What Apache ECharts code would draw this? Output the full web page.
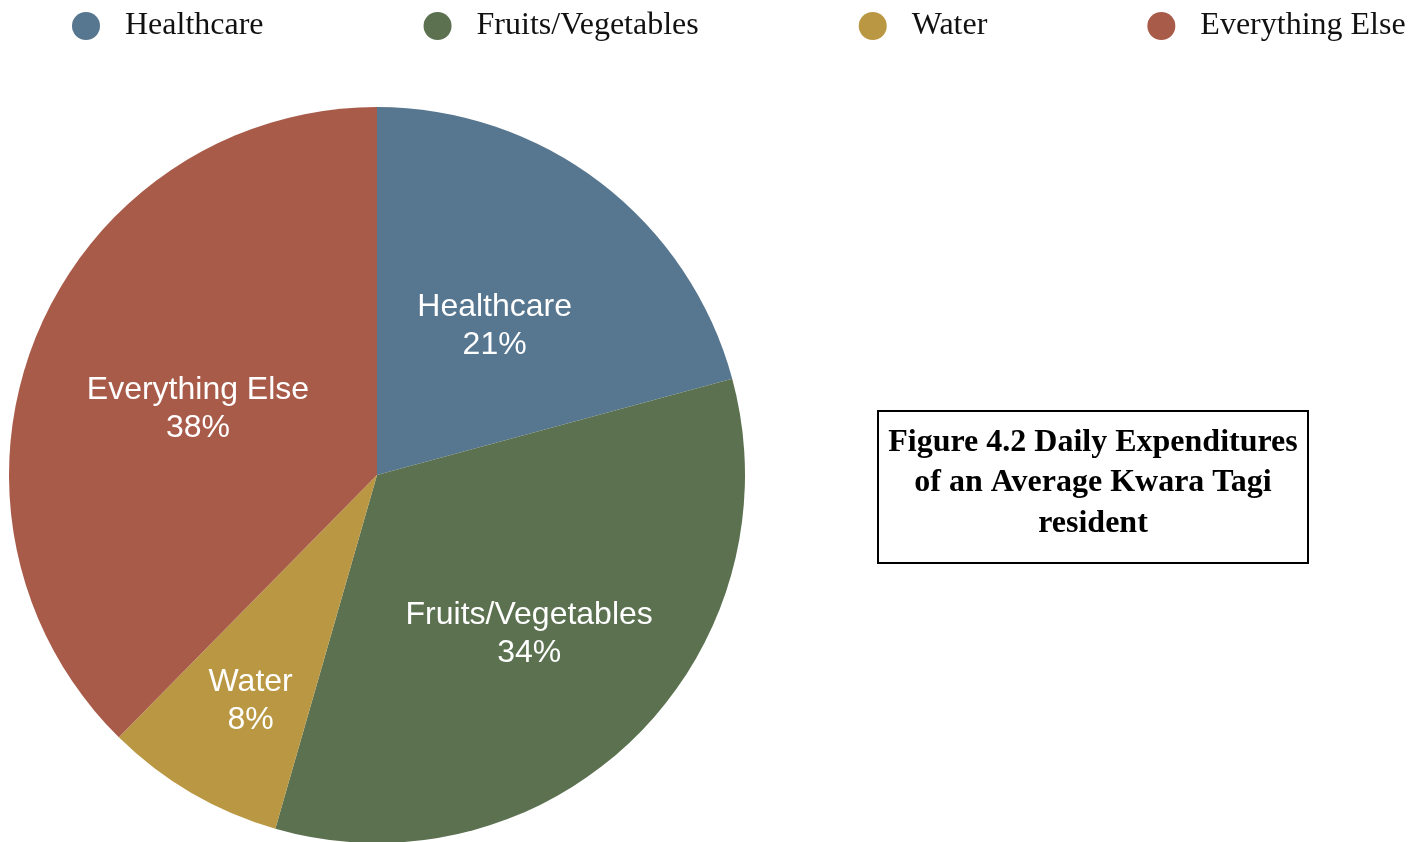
<!DOCTYPE html>
<html>
<head>
<meta charset="utf-8">
<script src="https://cdn.jsdelivr.net/npm/echarts@6/dist/echarts.min.js"></script>
<style>
  html, body { margin: 0; padding: 0; background: #fff; }
  #chart { width: 1426px; height: 842px; }
</style>
</head>
<body>
<div id="chart"></div>
<script>
// spending shares, percent
const categories = ['Healthcare', 'Fruits/Vegetables', 'Water', 'Everything Else'];
const shares = [21, 34, 8, 38];
const colors = ['#57768f', '#5b7150', '#ba9843', '#a95b4a'];
const titleLines = ['Figure 4.2 Daily Expenditures', 'of an Average Kwara Tagi', 'resident'];

// label nudges so they sit where the original put them
const labelOffsets = [[4, 0], [21, 26], [-32, 65], [-6, 5]];

const chart = echarts.init(document.getElementById('chart'));

const option = {
  animation: false,
  color: colors,
  legend: {
    data: categories,
    left: 67,
    top: 5,
    icon: 'circle',
    itemWidth: 28,
    itemHeight: 28,
    itemGap: 160,
    textStyle: {
      fontFamily: '"Liberation Serif", "Times New Roman", serif',
      fontSize: 32,
      color: '#111',
      padding: [0, 0, 0, 20]
    }
  },
  graphic: [
    {
      type: 'rect',
      left: 877,
      top: 410,
      shape: { width: 430, height: 152 },
      style: { fill: '#fff', stroke: '#000', lineWidth: 2 }
    },
    {
      type: 'text',
      x: 1093,
      y: 422,
      style: {
        text: titleLines.join('\n'),
        font: 'bold 32px "Liberation Serif", "Times New Roman", serif',
        fill: '#000',
        align: 'center',
        verticalAlign: 'top',
        lineHeight: 40.5
      }
    }
  ],
  series: [
    {
      type: 'pie',
      center: [377, 475],
      radius: 368,
      startAngle: 90,
      clockwise: true,
      data: categories.map((name, i) => ({
        name: name,
        value: shares[i],
        label: { offset: labelOffsets[i] }
      })),
      itemStyle: { borderWidth: 0 },
      label: {
        position: 'inside',
        formatter: p => p.name + '\n' + p.value + '%',
        color: '#fff',
        fontFamily: '"Liberation Sans", Arial, Helvetica, sans-serif',
        fontSize: 32,
        lineHeight: 38
      },
      labelLine: { show: false },
      emphasis: { disabled: true }
    }
  ]
};

chart.setOption(option);
</script>
</body>
</html>
